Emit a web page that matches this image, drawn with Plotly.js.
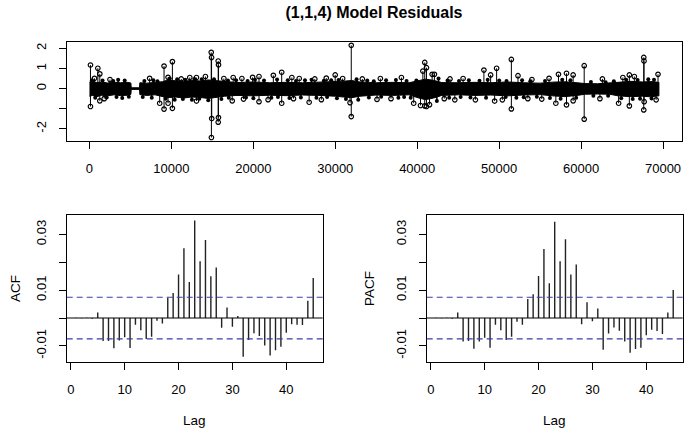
<!DOCTYPE html>
<html>
<head>
<meta charset="utf-8">
<script src="https://cdn.plot.ly/plotly-3.0.1.min.js"></script>
<style>html,body{margin:0;padding:0;background:#fff;}#chart{width:685px;height:431px;}</style>
</head>
<body>
<div id="chart"></div>
<script>
// ---- Residual series (dense band envelope + visible spikes) ----
const band_x  = [0, 400, 900, 1500, 2200, 3000, 3800, 4600, 5050, 5100, 6100, 6150, 7000, 8000, 8900, 9500, 10500, 11500, 12500, 13500, 14500, 15500, 16500, 18000, 20000, 22000, 24000, 26000, 28000, 30000, 31000, 32000, 33000, 35000, 37000, 39000, 40200, 41000, 42000, 43000, 45000, 47000, 49000, 51000, 53000, 55000, 56500, 58000, 59500, 60500, 62000, 63500, 64500, 66000, 67500, 68500, 69500];
const band_hi = [0.32, 0.36, 0.3, 0.32, 0.28, 0.31, 0.29, 0.31, 0.28, 0.04, 0.04, 0.29, 0.27, 0.31, 0.34, 0.42, 0.4, 0.36, 0.41, 0.38, 0.43, 0.4, 0.34, 0.3, 0.33, 0.29, 0.31, 0.29, 0.32, 0.34, 0.37, 0.4, 0.33, 0.29, 0.31, 0.29, 0.4, 0.47, 0.41, 0.3, 0.29, 0.31, 0.29, 0.33, 0.29, 0.27, 0.32, 0.34, 0.29, 0.25, 0.24, 0.26, 0.31, 0.36, 0.33, 0.35, 0.31];
const band_lo = [-0.38, -0.34, -0.4, -0.33, -0.36, -0.31, -0.35, -0.33, -0.29, -0.04, -0.04, -0.3, -0.34, -0.31, -0.38, -0.45, -0.42, -0.47, -0.42, -0.44, -0.49, -0.45, -0.38, -0.34, -0.36, -0.33, -0.35, -0.32, -0.34, -0.38, -0.42, -0.45, -0.38, -0.32, -0.34, -0.31, -0.47, -0.55, -0.47, -0.34, -0.31, -0.34, -0.32, -0.36, -0.32, -0.3, -0.36, -0.4, -0.34, -0.28, -0.27, -0.28, -0.36, -0.4, -0.38, -0.41, -0.36];

const spike_x = [120, 610, 1020, 1260, 2500, 7340, 9100, 9590, 10120, 11200, 12240, 13060, 14150, 14860, 14900, 15710, 15750, 16400, 17540, 18600, 19910, 20690, 22440, 23460, 24700, 25600, 27500, 28900, 29990, 30900, 31950, 33300, 35500, 38070, 40690, 40920, 41130, 41820, 42100, 44000, 45600, 48140, 48960, 49690, 51490, 52300, 54000, 56090, 57240, 58220, 59030, 60380, 62600, 65100, 65890, 66500, 67650, 67680, 69390,
  120, 1260, 1800, 8570, 9100, 9590, 10120, 13060, 14880, 14920, 15710, 15740, 17420, 18800, 20690, 21800, 23460, 24900, 26810, 28300, 31950, 31800, 35090, 36800, 39570, 40400, 40920, 41130, 41500, 43300, 44590, 47100, 49450, 50390, 51490, 53500, 55200, 56920, 58220, 59030, 60380, 62300, 64580, 65890, 67650, 67700, 69160];
const spike_y = [1.17, 0.51, 1.01, 0.73, 0.45, 0.51, 1.12, 0.56, 1.34, 0.48, 0.55, 0.55, 0.6, 1.80, 1.55, 1.37, 1.18, 0.5, 0.55, 0.5, 0.56, 0.6, 0.66, 0.81, 0.55, 0.5, 0.48, 0.52, 0.68, 0.5, 2.15, 0.48, 0.5, 0.55, 0.87, 1.30, 1.04, 0.71, 0.71, 0.48, 0.5, 0.92, 0.68, 1.01, 1.45, 0.64, 0.45, 0.51, 0.71, 0.76, 0.68, 1.14, 0.48, 0.55, 0.68, 0.6, 1.55, 1.37, 0.71,
  -0.89, -0.61, -0.5, -0.73, -1.02, -0.73, -0.98, -0.62, -2.43, -1.49, -1.67, -1.44, -0.61, -0.52, -0.65, -0.55, -0.73, -0.5, -0.68, -0.55, -1.39, -0.7, -0.54, -0.5, -0.73, -0.84, -0.86, -0.89, -0.8, -0.5, -0.56, -0.56, -0.62, -0.56, -1.01, -0.5, -0.52, -0.73, -0.81, -0.61, -1.52, -0.5, -0.73, -0.86, -1.06, -0.65, -0.56];

// small excursions just outside the band (rough edge of the band)
const edge_x = [300, 1600, 2900, 3500, 4300, 6700, 7800, 8300, 9800, 10700, 11700, 12800, 13700, 15200, 16900, 17900, 19300, 20200, 21300, 22900, 24200, 25200, 26300, 27100, 28600, 29500, 30400, 32600, 33900, 34700, 36200, 37400, 38700, 39900, 42600, 43700, 45100, 46300, 47600, 48600, 50000, 50900, 52800, 53800, 55600, 57700, 58700, 61200, 63000, 64000, 65500, 66900, 68200, 68900,
  700, 2100, 3300, 4000, 4800, 6500, 7600, 9300, 10400, 11400, 12500, 13400, 14500, 16100, 17000, 19100, 20000, 22200, 23000, 24400, 25800, 27700, 29000, 30200, 31300, 32800, 34100, 35600, 37700, 38400, 39200, 42400, 43900, 45300, 46500, 48400, 50800, 52100, 53000, 54600, 56200, 57500, 59400, 61500, 63300, 64900, 66300, 67200, 68600];
const edge_y = [0.42, 0.4, 0.38, 0.44, 0.4, 0.38, 0.42, 0.36, 0.5, 0.46, 0.44, 0.48, 0.46, 0.47, 0.4, 0.42, 0.38, 0.44, 0.4, 0.45, 0.41, 0.38, 0.42, 0.44, 0.39, 0.42, 0.43, 0.46, 0.4, 0.37, 0.41, 0.43, 0.38, 0.4, 0.5, 0.4, 0.38, 0.42, 0.39, 0.44, 0.4, 0.38, 0.42, 0.36, 0.38, 0.44, 0.42, 0.33, 0.32, 0.36, 0.44, 0.43, 0.46, 0.44,
  -0.46, -0.44, -0.42, -0.47, -0.4, -0.42, -0.45, -0.5, -0.56, -0.52, -0.55, -0.5, -0.58, -0.52, -0.46, -0.44, -0.48, -0.45, -0.42, -0.47, -0.44, -0.46, -0.42, -0.48, -0.52, -0.55, -0.44, -0.41, -0.45, -0.42, -0.46, -0.62, -0.45, -0.42, -0.44, -0.46, -0.42, -0.45, -0.43, -0.4, -0.47, -0.5, -0.46, -0.36, -0.35, -0.48, -0.52, -0.5, -0.49];

const series_ticks = [0, 10000, 20000, 30000, 40000, 50000, 60000, 70000];

// ---- ACF / PACF ----
const lags = [1,2,3,4,5,6,7,8,9,10,11,12,13,14,15,16,17,18,19,20,21,22,23,24,25,26,27,28,29,30,31,32,33,34,35,36,37,38,39,40,41,42,43,44,45];
const acf_vals = [0.0001, -0.0001, 0.0001, -0.0003, 0.0020, -0.0083, -0.0083, -0.0109, -0.0081, -0.0069, -0.0108, -0.0024, -0.0044, -0.0075, -0.0067, -0.0010, -0.0020, 0.0073, 0.0090, 0.0156, 0.0251, 0.0129, 0.0350, 0.0204, 0.0280, 0.0150, 0.0181, -0.0035, 0.0038, -0.0031, 0.0007, -0.0139, -0.0079, -0.0055, -0.0065, -0.0099, -0.0135, -0.0116, -0.0103, -0.0053, -0.0022, -0.0024, -0.0025, 0.0062, 0.0144];
const pacf_vals = [0.0001, -0.0001, 0.0001, -0.0003, 0.0020, -0.0084, -0.0083, -0.0110, -0.0084, -0.0071, -0.0107, -0.0024, -0.0044, -0.0079, -0.0067, -0.0013, -0.0024, 0.0068, 0.0085, 0.0151, 0.0248, 0.0125, 0.0346, 0.0204, 0.0283, 0.0156, 0.0192, -0.0022, 0.0057, -0.0012, 0.0034, -0.0114, -0.0056, -0.0034, -0.0046, -0.0084, -0.0125, -0.0111, -0.0107, -0.0062, -0.0042, -0.0047, -0.0057, 0.0020, 0.0101];
const ci_bound = 0.00746;
const cf_tickvals = [-0.01, 0, 0.01, 0.02, 0.03];
const cf_ticktext = ['-0.01', '', '0.01', '', '0.03'];
const lag_ticks = [0, 10, 20, 30, 40];

// ---- build traces ----
function stems(xs, ys) {
  const X = [], Y = [];
  xs.forEach((x, i) => { X.push(x, x, null); Y.push(0, ys[i], null); });
  return {X, Y};
}
const FONT = 'Liberation Sans, Arial, Helvetica, sans-serif';
const traces = [];

traces.push({
  x: band_x.concat(band_x.slice().reverse()),
  y: band_hi.concat(band_lo.slice().reverse()),
  type: 'scatter', mode: 'lines', fill: 'toself', fillcolor: '#000',
  line: {color: '#000', width: 1}, xaxis: 'x', yaxis: 'y', hoverinfo: 'skip'
});
const ed = stems(edge_x, edge_y);
traces.push({x: ed.X, y: ed.Y, type: 'scatter', mode: 'lines', line: {color: '#000', width: 1.5}, xaxis: 'x', yaxis: 'y'});
traces.push({x: edge_x, y: edge_y, type: 'scatter', mode: 'markers',
  marker: {symbol: 'circle', size: 4, color: '#000'}, xaxis: 'x', yaxis: 'y'});
const sp = stems(spike_x, spike_y);
traces.push({x: sp.X, y: sp.Y, type: 'scatter', mode: 'lines', line: {color: '#000', width: 1}, xaxis: 'x', yaxis: 'y'});
traces.push({x: spike_x, y: spike_y, type: 'scatter', mode: 'markers',
  marker: {symbol: 'circle-open', size: 4.5, color: '#000', line: {width: 1.2}}, xaxis: 'x', yaxis: 'y'});

const a = stems(lags, acf_vals);
traces.push({x: a.X, y: a.Y, type: 'scatter', mode: 'lines', line: {color: '#222', width: 1.4}, xaxis: 'x2', yaxis: 'y2'});
const p = stems(lags, pacf_vals);
traces.push({x: p.X, y: p.Y, type: 'scatter', mode: 'lines', line: {color: '#222', width: 1.4}, xaxis: 'x3', yaxis: 'y3'});

function axisBase(extra) {
  return Object.assign({
    showline: true, mirror: true, linecolor: '#000', linewidth: 1,
    ticks: 'outside', ticklen: 7, tickcolor: '#000', tickwidth: 1,
    showgrid: false, zeroline: false,
    tickfont: {family: FONT, size: 13, color: '#000'},
    ticklabelstandoff: 8, fixedrange: true
  }, extra);
}

const W = 685, H = 431;
const dx = (a, b) => [a / W, b / W];
const dy = (top, bot) => [1 - bot / H, 1 - top / H];

const shapes = [];
['2', '3'].forEach(n => {
  shapes.push({type: 'line', xref: 'x' + n + ' domain', yref: 'y' + n, x0: 0, x1: 1, y0: 0, y1: 0, line: {color: '#000', width: 1}});
  [ci_bound, -ci_bound].forEach(v => shapes.push({type: 'line', xref: 'x' + n + ' domain', yref: 'y' + n, x0: 0, x1: 1, y0: v, y1: v, line: {color: '#3c3ca6', width: 1.2, dash: '6px,4px'}}));
});

const layout = {
  width: W, height: H, margin: {l: 0, r: 0, t: 0, b: 0},
  paper_bgcolor: '#fff', plot_bgcolor: '#fff', showlegend: false,
  font: {family: FONT, color: '#000'},
  title: {text: '<b>(1,1,4) Model Residuals</b>', font: {family: FONT, size: 16, color: '#000'},
    x: 374 / W, xanchor: 'center', y: 1 - 12 / H, yanchor: 'middle', xref: 'paper', yref: 'paper'},
  xaxis: axisBase({domain: dx(66.7, 681.7), anchor: 'y', range: [-2780, 72280], tickvals: series_ticks, ticktext: series_ticks.map(String)}),
  yaxis: axisBase({domain: dy(41.5, 141.3), anchor: 'x', range: [-2.62, 2.34], tickvals: [-2, -1, 0, 1, 2], ticktext: ['-2', '', '0', '1', '2'], tickangle: -90}),
  xaxis2: axisBase({domain: dx(66.7, 322.7), anchor: 'y2', range: [-0.76, 46.76], tickvals: lag_ticks}),
  yaxis2: axisBase({domain: dy(215, 362), anchor: 'x2', range: [-0.0158, 0.0370], tickvals: cf_tickvals, ticktext: cf_ticktext, tickangle: -90}),
  xaxis3: axisBase({domain: dx(426.7, 682.7), anchor: 'y3', range: [-0.76, 46.76], tickvals: lag_ticks}),
  yaxis3: axisBase({domain: dy(215, 362), anchor: 'x3', range: [-0.0158, 0.0370], tickvals: cf_tickvals, ticktext: cf_ticktext, tickangle: -90}),
  shapes: shapes,
  annotations: [
    {text: 'ACF', xref: 'paper', yref: 'paper', x: 15 / W, y: 1 - 289 / H, xanchor: 'center', yanchor: 'middle', textangle: -90, showarrow: false, font: {family: FONT, size: 13.5, color: '#000'}},
    {text: 'PACF', xref: 'paper', yref: 'paper', x: 369 / W, y: 1 - 289 / H, xanchor: 'center', yanchor: 'middle', textangle: -90, showarrow: false, font: {family: FONT, size: 13.5, color: '#000'}},
    {text: 'Lag', xref: 'paper', yref: 'paper', x: 194.7 / W, y: 1 - 420 / H, xanchor: 'center', yanchor: 'middle', showarrow: false, font: {family: FONT, size: 13.5, color: '#000'}},
    {text: 'Lag', xref: 'paper', yref: 'paper', x: 554.7 / W, y: 1 - 420 / H, xanchor: 'center', yanchor: 'middle', showarrow: false, font: {family: FONT, size: 13.5, color: '#000'}}
  ]
};

Plotly.newPlot('chart', traces, layout, {staticPlot: true, displayModeBar: false});
</script>
</body>
</html>
